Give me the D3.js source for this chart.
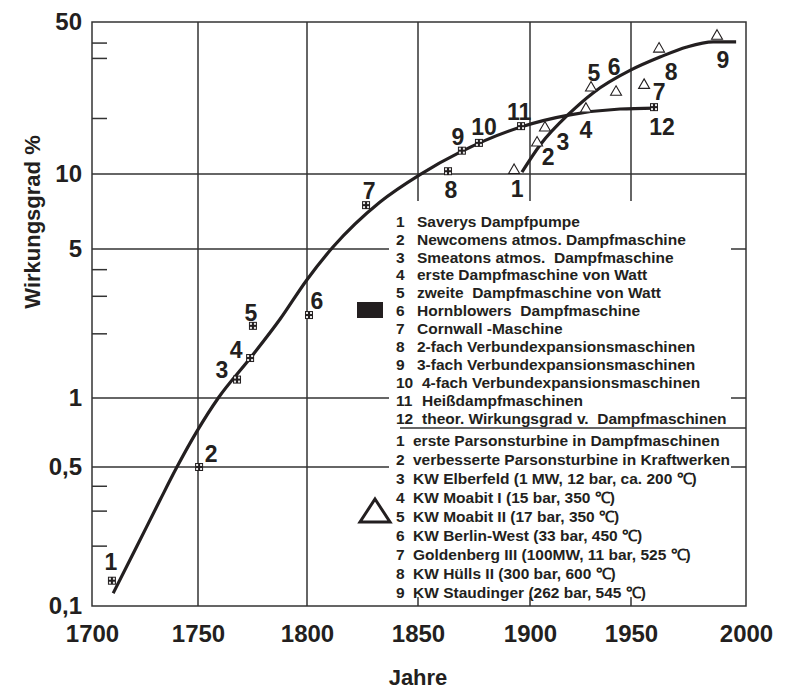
<!DOCTYPE html>
<html>
<head>
<meta charset="utf-8">
<script src="https://cdn.jsdelivr.net/npm/d3@7"></script>
<style>
  body { margin: 0; background: #fff; }
  svg text { font-family: "Liberation Sans", Arial, sans-serif; font-weight: bold; fill: #231f20; }
</style>
</head>
<body>
<svg width="786" height="693"></svg>
<script>
// steam engines (squares), years and efficiency in %
var engineYears = [1709.4, 1750.5, 1767.9, 1773.9, 1775.2, 1800.9, 1826.6, 1863.4, 1869.6, 1877.2, 1896, 1960];
var engineEff   = [0.134, 0.5, 1.22, 1.54, 2.18, 2.45, 7.5, 10.3, 12.8, 13.9, 16.6, 20.3];
var engineNames = ["Saverys Dampfpumpe", "Newcomens atmos. Dampfmaschine", "Smeatons atmos.  Dampfmaschine",
  "erste Dampfmaschine von Watt", "zweite  Dampfmaschine von Watt", "Hornblowers  Dampfmaschine",
  "Cornwall -Maschine", "2-fach Verbundexpansionsmaschinen", "3-fach Verbundexpansionsmaschinen",
  "4-fach Verbundexpansionsmaschinen", "Heißdampfmaschinen", "theor. Wirkungsgrad v.  Dampfmaschinen"];

// steam turbines / power plants (triangles)
var turbineYears = [1892.9, 1903.5, 1907.4, 1927.7, 1930.2, 1942.6, 1955.7, 1962.2, 1987.4];
var turbineEff   = [10.4, 13.9, 16.3, 19.9, 24.9, 23.8, 25.6, 37.6, 43.1];
var turbineNames = ["erste Parsonsturbine in Dampfmaschinen", "verbesserte Parsonsturbine in Kraftwerken",
  "KW Elberfeld (1 MW, 12 bar, ca. 200 \u2103)", "KW Moabit I (15 bar, 350 \u2103)", "KW Moabit II (17 bar, 350 \u2103)",
  "KW Berlin-West (33 bar, 450 \u2103)", "Goldenberg III (100MW, 11 bar, 525 \u2103)", "KW Hülls II (300 bar, 600 \u2103)",
  "KW Staudinger (262 bar, 545 \u2103)"];

// trend curves
var engineTrendYears = [1710, 1721.1, 1732.1, 1740, 1749.4, 1759.3, 1773.9, 1787.6, 1799.9, 1811.7, 1832.9, 1850.9, 1868.8, 1895.5, 1919.8, 1944.6, 1960.4];
var engineTrendEff   = [0.116, 0.199, 0.341, 0.498, 0.713, 1.0, 1.535, 2.34, 3.58, 5.09, 7.72, 9.95, 12.6, 16.4, 18.7, 19.9, 20.1];
var turbineTrendYears = [1896.4, 1905, 1919.8, 1931.2, 1950, 1962.6, 1974.3, 1985.7, 1995.7];
var turbineTrendEff   = [10.2, 13.6, 19.1, 23.6, 30.1, 34.5, 38.4, 40.5, 40.5];

// axis ticks
var xTicks = [1700, 1750, 1800, 1850, 1900, 1950, 2000];
var yMajor = [0.1, 0.5, 1, 5, 10, 50];
var yMinor = [0.2, 0.3, 0.4, 2, 3, 4, 18, 34, 40];

// where the number labels sit relative to their marker (layout only)
var engineLabelOff  = [[-1,-19],[12,-13],[-15,-10],[-14,-8],[-2,-13],[8,-14],[3,-14],[3,19],[-4,-14],[5,-16],[-2,-14],[8,20]];
var turbineLabelOff = [[3,18],[11,14],[18,14],[0,21],[3,-15],[-2,-25],[15,6],[12,23],[6,24]];

function draw() {
    var ink = "#231f20";
    var svg = d3.select("svg");

    var left = 92, right = 746, top = 22, bottom = 606;

    // the drawn grid is not perfectly even, so the scales are piecewise
    var x = d3.scaleLinear().domain(xTicks).range([left, 198, 307, 418, 530, 631, right]);
    var y = d3.scaleLog().domain(yMajor).range([bottom, 467, 398, 249, 174, top]);

    var de = d3.formatLocale({decimal: ",", thousands: ".", grouping: [3], currency: ["", "€"]});
    var yFmt = de.format("~g");

    // grid
    var grid = svg.append("g").attr("stroke", "#333").attr("stroke-width", 1.5);
    grid.selectAll("line.v")
        .data(xTicks.slice(1, -1))
        .enter().append("line")
        .attr("x1", d => x(d)).attr("x2", d => x(d))
        .attr("y1", top).attr("y2", bottom);
    grid.selectAll("line.h")
        .data(yMajor.slice(1, -1))
        .enter().append("line")
        .attr("x1", left).attr("x2", right)
        .attr("y1", d => y(d)).attr("y2", d => y(d));
    grid.selectAll("line.m")
        .data(yMinor)
        .enter().append("line")
        .attr("x1", left).attr("x2", left + 15)
        .attr("y1", d => y(d)).attr("y2", d => y(d));

    // white legend area covers the grid
    svg.append("rect")
        .attr("x", 389).attr("y", 201)
        .attr("width", 342).attr("height", 396)
        .attr("fill", "#fff");

    svg.append("rect")
        .attr("x", left).attr("y", top)
        .attr("width", right - left).attr("height", bottom - top)
        .attr("fill", "none").attr("stroke", "#333").attr("stroke-width", 1.5);

    // axes (labels only)
    var xAxis = svg.append("g")
        .attr("transform", "translate(0," + bottom + ")")
        .call(d3.axisBottom(x).tickValues(xTicks).tickFormat(d3.format("d")).tickSize(0).tickPadding(19));
    xAxis.select(".domain").remove();
    xAxis.selectAll("text").style("font-size", "24px");

    var yAxis = svg.append("g")
        .attr("transform", "translate(" + left + ",0)")
        .call(d3.axisLeft(y).tickValues(yMajor).tickFormat(yFmt).tickSize(0).tickPadding(10));
    yAxis.select(".domain").remove();
    yAxis.selectAll("text").style("font-size", "24px");

    svg.append("text")
        .attr("transform", "translate(40,222) rotate(-90)")
        .attr("text-anchor", "middle")
        .style("font-size", "22px")
        .text("Wirkungsgrad %");

    svg.append("text")
        .attr("x", 418).attr("y", 685)
        .attr("text-anchor", "middle")
        .style("font-size", "22px")
        .text("Jahre");

    // trend curves
    var line = d3.line()
        .x(d => x(d[0]))
        .y(d => y(d[1]))
        .curve(d3.curveMonotoneX);

    svg.append("path")
        .datum(d3.zip(engineTrendYears, engineTrendEff))
        .attr("d", line)
        .attr("fill", "none").attr("stroke", ink).attr("stroke-width", 3.2);
    svg.append("path")
        .datum(d3.zip(turbineTrendYears, turbineTrendEff))
        .attr("d", line)
        .attr("fill", "none").attr("stroke", ink).attr("stroke-width", 3.2);

    // square markers
    var engines = engineYears.map((d, i) => ({year: d, eff: engineEff[i], n: i + 1, off: engineLabelOff[i]}));
    var sq = svg.append("g").selectAll("g")
        .data(engines)
        .enter().append("g")
        .attr("transform", d => "translate(" + x(d.year) + "," + y(d.eff) + ")");
    sq.append("rect")
        .attr("x", -4).attr("y", -4).attr("width", 8).attr("height", 8)
        .attr("fill", ink);
    sq.selectAll("rect.c")
        .data([[-3, -3], [1, -3], [-3, 1], [1, 1]])
        .enter().append("rect")
        .attr("x", d => d[0]).attr("y", d => d[1])
        .attr("width", 2).attr("height", 2)
        .attr("fill", "#e8e8e8");

    // triangle markers
    var turbines = turbineYears.map((d, i) => ({year: d, eff: turbineEff[i], n: i + 1, off: turbineLabelOff[i]}));
    svg.append("g").selectAll("path")
        .data(turbines)
        .enter().append("path")
        .attr("d", d3.symbol(d3.symbolTriangle, 52))
        .attr("transform", d => "translate(" + x(d.year) + "," + y(d.eff) + ")")
        .attr("fill", "#fff").attr("stroke", ink).attr("stroke-width", 1.1);

    // number labels
    svg.append("g").selectAll("text")
        .data(engines.concat(turbines))
        .enter().append("text")
        .attr("x", d => x(d.year) + d.off[0])
        .attr("y", d => y(d.eff) + d.off[1])
        .attr("dy", "0.36em")
        .attr("text-anchor", "middle")
        .style("font-size", "23px")
        .text(d => d.n);

    // legend
    var leg = svg.append("g").style("font-size", "15.5px");
    leg.selectAll("text.num1")
        .data(engineNames)
        .enter().append("text")
        .attr("x", 396)
        .attr("y", (d, i) => 221 + i * 17.96)
        .attr("dy", "0.36em")
        .text((d, i) => i + 1);
    leg.selectAll("text.name1")
        .data(engineNames)
        .enter().append("text")
        .attr("x", (d, i) => i < 9 ? 417 : 422)
        .attr("y", (d, i) => 221 + i * 17.96)
        .attr("dy", "0.36em")
        .attr("xml:space", "preserve")
        .style("white-space", "pre")
        .text(d => d);

    leg.selectAll("text.num2")
        .data(turbineNames)
        .enter().append("text")
        .attr("x", 396)
        .attr("y", (d, i) => 440 + i * 19.1)
        .attr("dy", "0.36em")
        .text((d, i) => i + 1);
    leg.selectAll("text.name2")
        .data(turbineNames)
        .enter().append("text")
        .attr("x", 413)
        .attr("y", (d, i) => 440 + i * 19.1)
        .attr("dy", "0.36em")
        .text(d => d);

    svg.append("line")
        .attr("x1", 400).attr("x2", right)
        .attr("y1", 428).attr("y2", 428)
        .attr("stroke", "#333").attr("stroke-width", 1.5);

    // legend symbols
    svg.append("rect")
        .attr("x", 357).attr("y", 302)
        .attr("width", 26).attr("height", 16)
        .attr("fill", ink);
    svg.append("path")
        .attr("d", "M0,-15L15,8L-15,8Z")
        .attr("transform", "translate(375,514)")
        .attr("fill", "#fff").attr("stroke", ink)
        .attr("stroke-width", 3).attr("stroke-linejoin", "miter");
}

draw();
</script>
</body>
</html>
